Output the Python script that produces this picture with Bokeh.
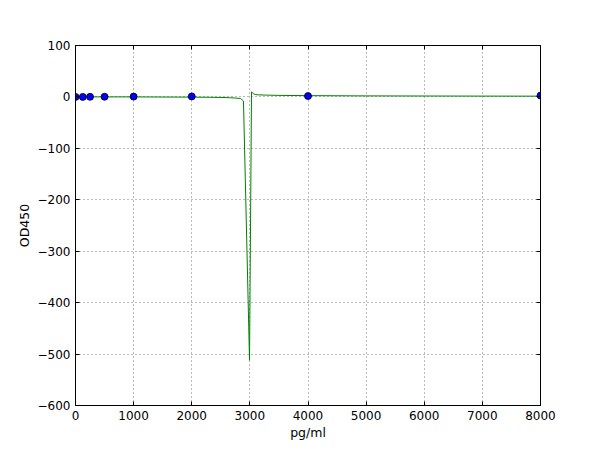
from bokeh.plotting import figure
from bokeh.models import Range1d, FixedTicker, LinearAxis
from bokeh.embed import file_html
from bokeh.resources import INLINE

# Measured standards (pg/ml vs OD450)
std_conc = [0, 125, 250, 500, 1000, 2000, 4000, 8000]
std_od = [0.05, 0.1, 0.2, 0.35, 0.6, 1.0, 1.7, 2.6]

# Fitted curve (pole near 3000 pg/ml)
fit_conc = [0, 250, 500, 1000, 1500, 2000, 2300, 2500, 2650, 2750, 2840, 2890,
            2994, 3028, 3060, 3100, 3150, 3300, 3500, 4000, 5000, 6000, 7000, 8000]
fit_od = [0.1, 0.1, 0.1, 0.0, -0.2, -0.4, -0.7, -1.0, -1.5, -2.2, -3.0, -8.0,
          -512.0, 10.0, 6.0, 4.5, 4.0, 3.5, 3.0, 2.5, 2.0, 1.8, 1.6, 1.5]

x_ticks = [0, 1000, 2000, 3000, 4000, 5000, 6000, 7000, 8000]
y_ticks = [-600, -500, -400, -300, -200, -100, 0, 100]

FONT = "DejaVu Sans"

p = figure(frame_width=465, frame_height=360, output_backend="svg",
           toolbar_location=None, min_border_left=75, min_border_top=45,
           min_border_right=52, min_border_bottom=30,
           x_range=Range1d(0, 8000), y_range=Range1d(-600, 100))
p.background_fill_color = "white"
p.border_fill_color = "white"
p.outline_line_color = "black"
p.outline_line_width = 1

p.line(fit_conc, fit_od, line_color="#008000", line_width=1)
p.scatter(std_conc, std_od, size=7, fill_color="#0000ff", line_color="black",
          line_width=0.8)

for ax, ticks in ((p.xaxis[0], x_ticks), (p.yaxis[0], y_ticks)):
    ax.ticker = FixedTicker(ticks=ticks)
    ax.major_label_overrides = {t: (("\u2212" + str(-t)) if t < 0 else str(t)) for t in ticks}
    ax.major_label_text_font = FONT
    ax.major_label_text_font_size = "12px"
    ax.major_label_text_color = "black"
    ax.axis_label_text_font = FONT
    ax.axis_label_text_font_size = "12.5px"
    ax.axis_label_text_font_style = "normal"
    ax.axis_label_text_color = "black"
    ax.major_tick_in = 4
    ax.major_tick_out = 0
    ax.minor_tick_line_color = None
    ax.axis_line_color = "black"
    ax.major_label_standoff = 5

p.xaxis[0].axis_label = "pg/ml"
p.yaxis[0].axis_label = "OD450"
p.xaxis[0].axis_label_standoff = 2
p.yaxis[0].axis_label_standoff = 3

p.xgrid.ticker = FixedTicker(ticks=x_ticks)
p.ygrid.ticker = FixedTicker(ticks=y_ticks)
p.grid.grid_line_color = "#555555"
p.grid.grid_line_alpha = 0.8
p.grid.grid_line_dash = "1 3"
p.grid.grid_line_width = 1

# ticks on top and right (classic style), no labels
top = LinearAxis(ticker=FixedTicker(ticks=x_ticks), major_tick_in=4, major_tick_out=0,
                 minor_tick_line_color=None, major_label_standoff=0,
                 major_label_overrides={t: "" for t in x_ticks})
right = LinearAxis(ticker=FixedTicker(ticks=y_ticks), major_tick_in=4, major_tick_out=0,
                   minor_tick_line_color=None, major_label_standoff=0,
                   major_label_overrides={t: "" for t in y_ticks})
p.add_layout(top, "above")
p.add_layout(right, "right")

open("out.html", "w").write(file_html(p, INLINE))
